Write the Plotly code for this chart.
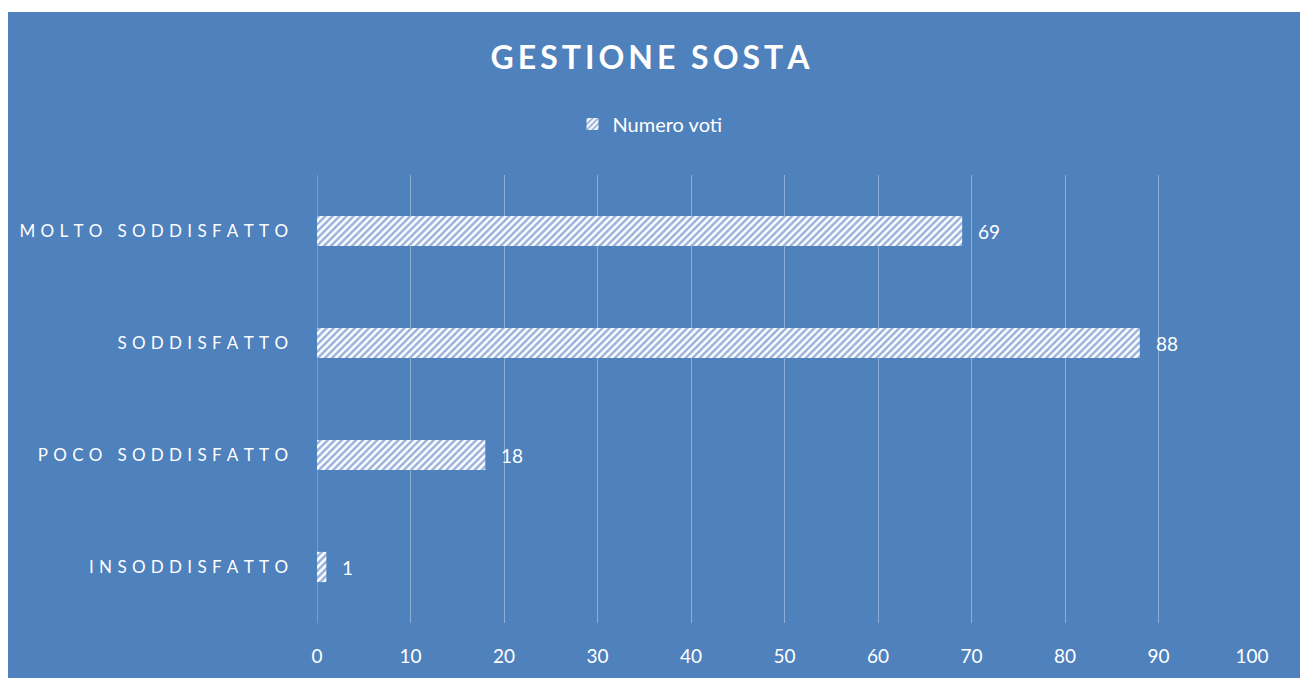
import plotly.graph_objects as go

categories = ["INSODDISFATTO", "POCO SODDISFATTO", "SODDISFATTO", "MOLTO SODDISFATTO"]
values = [1, 18, 88, 69]
series_name = "Numero voti"
x_ticks = [0, 10, 20, 30, 40, 50, 60, 70, 80, 90, 100]
title_text = "GESTIONE SOSTA"

BLUE = "#4F81BD"
FONT = "Lato, Open Sans, sans-serif"

def spaced(s, sep):
    return sep.join(list(s))

W, H = 1300, 678
L, R, T, B = 317, 1252, 175, 623

fig = go.Figure()
fig.add_trace(go.Bar(
    y=categories, x=values, orientation="h", name=series_name,
    marker=dict(color="white", line=dict(width=0),
                pattern=dict(shape="/", fgcolor="#3366B8", bgcolor="white", size=5, solidity=0.5)),
    showlegend=True,
))

for c, v in zip(categories, values):
    fig.add_annotation(x=v, y=c, text=str(v), showarrow=False, xanchor="left", xshift=14,
                       font=dict(color="white", size=19, family=FONT))

pw, ph = R - L, B - T
fig.add_shape(type="rect", xref="paper", yref="paper", layer="below",
              x0=(8 - L) / pw, x1=(W - L) / pw, y0=-(H - B) / ph, y1=(B - 12) / ph,
              fillcolor=BLUE, line=dict(width=0))

fig.update_layout(
    width=W, height=H,
    margin=dict(l=L, r=W - R, t=T, b=H - B),
    paper_bgcolor="white", plot_bgcolor="rgba(0,0,0,0)",
    bargap=0.73,
    title=dict(text="<b>" + spaced(title_text, "\u2009") + "</b>", x=0.5, xref="container",
               y=1 - 58 / H, yanchor="middle",
               font=dict(size=32, color="white", family=FONT)),
    legend=dict(orientation="h", x=0.5, xref="container", xanchor="center",
                y=1 - 124 / H, yref="container", yanchor="middle",
                font=dict(size=20, color="white", family=FONT), bgcolor="rgba(0,0,0,0)",
                itemwidth=30),
    xaxis=dict(range=[0, 100], tickvals=x_ticks, showgrid=True,
               gridcolor="rgba(255,255,255,0.35)", gridwidth=1.3,
               zeroline=False, showline=False, ticks="",
               tickfont=dict(size=19, color="white", family=FONT), ticklabelstandoff=20),
    yaxis=dict(categoryorder="array", categoryarray=categories,
               tickvals=categories, ticktext=[spaced(c, "\u2009\u2009\u200a") for c in categories],
               showgrid=False, zeroline=False, showline=False, ticks="",
               tickfont=dict(size=17, color="white", family=FONT), ticklabelstandoff=28),
)
fig.add_vline(x=0, line=dict(color="rgba(255,255,255,0.35)", width=1.3), layer="below")

fig.write_html("out.html")
